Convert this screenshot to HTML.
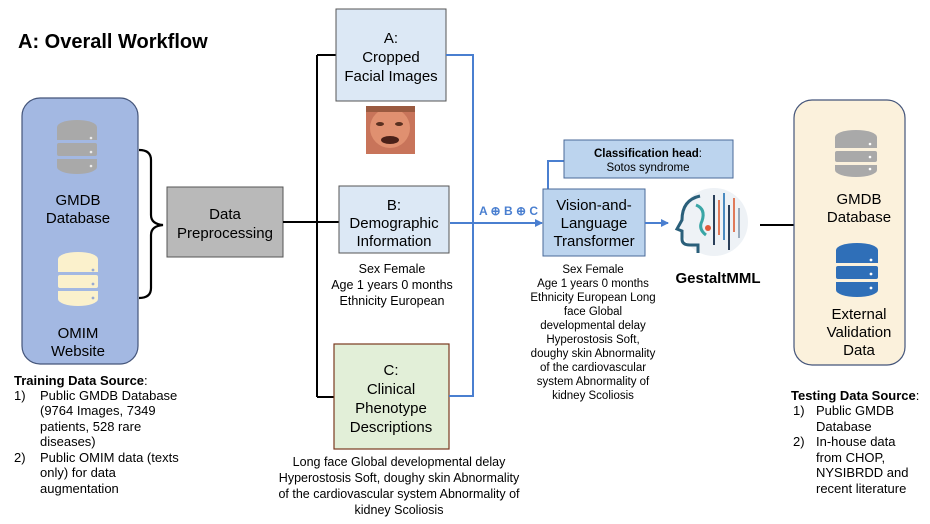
<!DOCTYPE html>
<html><head><meta charset="utf-8"><style>
html,body{margin:0;padding:0;background:#fff;}
svg{display:block;font-family:"Liberation Sans",Arial,sans-serif;}
</style></head><body>
<svg width="930" height="524" viewBox="0 0 930 524" xmlns="http://www.w3.org/2000/svg">
<defs>
<marker id="ab" markerWidth="8" markerHeight="8" refX="7" refY="4" orient="auto" markerUnits="userSpaceOnUse"><path d="M0,0 L8,4 L0,8 z" fill="#4a7fd0"/></marker>
<marker id="ak" markerWidth="8" markerHeight="8" refX="7" refY="4" orient="auto" markerUnits="userSpaceOnUse"><path d="M0,0 L8,4 L0,8 z" fill="#000"/></marker>
</defs>
<text x="18" y="48" font-size="20" font-weight="bold">A: Overall Workflow</text>

<rect x="22" y="98" width="116" height="266" rx="18" fill="#a3b8e2" stroke="#44557a" stroke-width="1.2"/>
<g fill="#a9a9a9">
<ellipse cx="77" cy="127" rx="20" ry="7"/>
<rect x="57" y="127" width="40" height="13"/>
<rect x="57" y="143" width="40" height="13" rx="2"/>
<path d="M57,159 h40 v8 a20,7 0 0 1 -40,0 z"/>
</g>
<g fill="#fff" opacity="0.8"><circle cx="91" cy="138" r="1.3"/><circle cx="91" cy="152" r="1.3"/><circle cx="91" cy="166" r="1.3"/></g>
<text x="78" y="205" font-size="15" text-anchor="middle">GMDB</text>
<text x="78" y="223" font-size="15" text-anchor="middle">Database</text>
<g fill="#fbf1cc">
<ellipse cx="78" cy="259" rx="20" ry="7"/>
<rect x="58" y="259" width="40" height="13"/>
<rect x="58" y="275" width="40" height="13" rx="2"/>
<path d="M58,291 h40 v8 a20,7 0 0 1 -40,0 z"/>
</g>
<g fill="#9aaad0"><circle cx="93" cy="270" r="1.4"/><circle cx="93" cy="284" r="1.4"/><circle cx="93" cy="298" r="1.4"/></g>
<text x="78" y="338" font-size="15" text-anchor="middle">OMIM</text>
<text x="78" y="356" font-size="15" text-anchor="middle">Website</text>

<path d="M139,150 q12,0 12,10 v55 q0,9 12,10 q-12,1 -12,10 v53 q0,10 -12,10" fill="none" stroke="#000" stroke-width="2.2"/>

<rect x="167" y="187" width="116" height="70" fill="#b9b9b9" stroke="#555" stroke-width="1"/>
<text x="225" y="219" font-size="15" text-anchor="middle">Data</text>
<text x="225" y="238" font-size="15" text-anchor="middle">Preprocessing</text>

<path d="M283,222 H317 M317,55 V397 M317,55 H336 M317,222 H339 M317,397 H334" fill="none" stroke="#000" stroke-width="2"/>

<rect x="336" y="9" width="110" height="92" fill="#dce8f5" stroke="#555" stroke-width="1"/>
<text x="391" y="43" font-size="15" text-anchor="middle">A:</text>
<text x="391" y="62" font-size="15" text-anchor="middle">Cropped</text>
<text x="391" y="81" font-size="15" text-anchor="middle">Facial Images</text>
<rect x="366" y="106" width="49" height="48" fill="#c8745a"/>
<ellipse cx="390" cy="128" rx="20" ry="20" fill="#e09070"/>
<ellipse cx="380" cy="124" rx="4" ry="2" fill="#5a3020"/>
<ellipse cx="399" cy="124" rx="4" ry="2" fill="#5a3020"/>
<ellipse cx="390" cy="140" rx="9" ry="4" fill="#4a2018"/>
<rect x="366" y="106" width="49" height="6" fill="#9a5a40"/>

<rect x="339" y="186" width="110" height="67" fill="#dce8f5" stroke="#555" stroke-width="1"/>
<text x="394" y="210" font-size="15" text-anchor="middle">B:</text>
<text x="394" y="228" font-size="15" text-anchor="middle">Demographic</text>
<text x="394" y="246" font-size="15" text-anchor="middle">Information</text>
<g font-size="12.5" text-anchor="middle">
<text x="392" y="273">Sex Female</text>
<text x="392" y="289">Age 1 years 0 months</text>
<text x="392" y="305">Ethnicity European</text>
</g>

<rect x="334" y="344" width="115" height="105" fill="#e2efd8" stroke="#7a3a20" stroke-width="1.2"/>
<text x="391" y="375" font-size="15" text-anchor="middle">C:</text>
<text x="391" y="394" font-size="15" text-anchor="middle">Clinical</text>
<text x="391" y="413" font-size="15" text-anchor="middle">Phenotype</text>
<text x="391" y="432" font-size="15" text-anchor="middle">Descriptions</text>
<g font-size="12.5" text-anchor="middle">
<text x="399" y="466">Long face Global developmental delay</text>
<text x="399" y="482">Hyperostosis Soft, doughy skin Abnormality</text>
<text x="399" y="498">of the cardiovascular system Abnormality of</text>
<text x="399" y="514">kidney Scoliosis</text>
</g>

<path d="M446,55 H473 V396 H449" fill="none" stroke="#4a7fd0" stroke-width="2"/>
<path d="M450,223 H542" fill="none" stroke="#4a7fd0" stroke-width="2" marker-end="url(#ab)"/>
<text x="479" y="215" font-size="12" font-weight="bold" fill="#4a7fd0">A ⊕ B ⊕ C</text>

<path d="M548,189 V161 H564" fill="none" stroke="#4a7fd0" stroke-width="2"/>
<rect x="564" y="140" width="169" height="38" fill="#bcd4ee" stroke="#4a6a98" stroke-width="1"/>
<text x="648" y="157" font-size="11.5" text-anchor="middle"><tspan font-weight="bold">Classification head</tspan>:</text>
<text x="648" y="171" font-size="11.5" text-anchor="middle">Sotos syndrome</text>
<rect x="543" y="189" width="102" height="67" fill="#bcd4ee" stroke="#4a6a98" stroke-width="1"/>
<text x="594" y="210" font-size="15" text-anchor="middle">Vision-and-</text>
<text x="594" y="228" font-size="15" text-anchor="middle">Language</text>
<text x="594" y="246" font-size="15" text-anchor="middle">Transformer</text>
<path d="M645,223 H668" fill="none" stroke="#4a7fd0" stroke-width="2" marker-end="url(#ab)"/>
<g font-size="11.5" text-anchor="middle">
<text x="593" y="273">Sex Female</text>
<text x="593" y="287">Age 1 years 0 months</text>
<text x="593" y="301">Ethnicity European Long</text>
<text x="593" y="315">face Global</text>
<text x="593" y="329">developmental delay</text>
<text x="593" y="343">Hyperostosis Soft,</text>
<text x="593" y="357">doughy skin Abnormality</text>
<text x="593" y="371">of the cardiovascular</text>
<text x="593" y="385">system Abnormality of</text>
<text x="593" y="399">kidney Scoliosis</text>
</g>

<circle cx="714" cy="222" r="34" fill="#eef2f6"/>
<path d="M700,196 q-18,4 -18,24 l-5,9 l5,2 v8 q0,6 8,6 h8 v8" fill="none" stroke="#2a5f7a" stroke-width="3"/>
<path d="M696,205 q10,4 6,16 q-4,8 4,14" fill="none" stroke="#3aa6a6" stroke-width="3"/>
<g stroke-width="2">
<line x1="714" y1="195" x2="714" y2="245" stroke="#2a3f5a"/>
<line x1="719" y1="200" x2="719" y2="235" stroke="#e07a5a"/>
<line x1="724" y1="193" x2="724" y2="240" stroke="#4a8ac0"/>
<line x1="729" y1="205" x2="729" y2="250" stroke="#2a3f5a"/>
<line x1="734" y1="198" x2="734" y2="232" stroke="#e07a5a"/>
<line x1="739" y1="208" x2="739" y2="238" stroke="#9ab"/>
</g>
<circle cx="708" cy="228" r="3" fill="#e05a3a"/>
<text x="718" y="283" font-size="15" font-weight="bold" text-anchor="middle">GestaltMML</text>

<path d="M760,225 H806 M806,168 V279" fill="none" stroke="#000" stroke-width="2"/>
<path d="M806,168 H826" fill="none" stroke="#000" stroke-width="2" marker-end="url(#ak)"/>
<path d="M806,279 H826" fill="none" stroke="#000" stroke-width="2" marker-end="url(#ak)"/>

<rect x="794" y="100" width="111" height="265" rx="18" fill="#fbf1dc" stroke="#44557a" stroke-width="1.2"/>
<g fill="#a9a9a9">
<ellipse cx="856" cy="137" rx="21" ry="7"/>
<rect x="835" y="137" width="42" height="11"/>
<rect x="835" y="151" width="42" height="11" rx="2"/>
<path d="M835,165 h42 v5 a21,7 0 0 1 -42,0 z"/>
</g>
<g fill="#fff"><circle cx="870" cy="144" r="1.3"/><circle cx="870" cy="157" r="1.3"/><circle cx="870" cy="169" r="1.3"/></g>
<text x="859" y="204" font-size="15" text-anchor="middle">GMDB</text>
<text x="859" y="222" font-size="15" text-anchor="middle">Database</text>
<g fill="#2f6fb8">
<ellipse cx="857" cy="250" rx="21" ry="7"/>
<rect x="836" y="250" width="42" height="13"/>
<rect x="836" y="266" width="42" height="13" rx="2"/>
<path d="M836,282 h42 v8 a21,7 0 0 1 -42,0 z"/>
</g>
<g fill="#fff"><circle cx="871" cy="260" r="1.4"/><circle cx="871" cy="274" r="1.4"/><circle cx="871" cy="288" r="1.4"/></g>
<text x="859" y="319" font-size="15" text-anchor="middle">External</text>
<text x="859" y="337" font-size="15" text-anchor="middle">Validation</text>
<text x="859" y="355" font-size="15" text-anchor="middle">Data</text>

<g font-size="13">
<text x="14" y="385"><tspan font-weight="bold">Training Data Source</tspan>:</text>
<text x="14" y="400">1)</text><text x="40" y="400">Public GMDB Database</text>
<text x="40" y="415">(9764 Images, 7349</text>
<text x="40" y="431">patients, 528 rare</text>
<text x="40" y="446">diseases)</text>
<text x="14" y="462">2)</text><text x="40" y="462">Public OMIM data (texts</text>
<text x="40" y="477">only) for data</text>
<text x="40" y="493">augmentation</text>
</g>
<g font-size="13">
<text x="791" y="400"><tspan font-weight="bold">Testing Data Source</tspan>:</text>
<text x="793" y="415">1)</text><text x="816" y="415">Public GMDB</text>
<text x="816" y="431">Database</text>
<text x="793" y="446">2)</text><text x="816" y="446">In-house data</text>
<text x="816" y="462">from CHOP,</text>
<text x="816" y="477">NYSIBRDD and</text>
<text x="816" y="493">recent literature</text>
</g>
</svg>
</body></html>
